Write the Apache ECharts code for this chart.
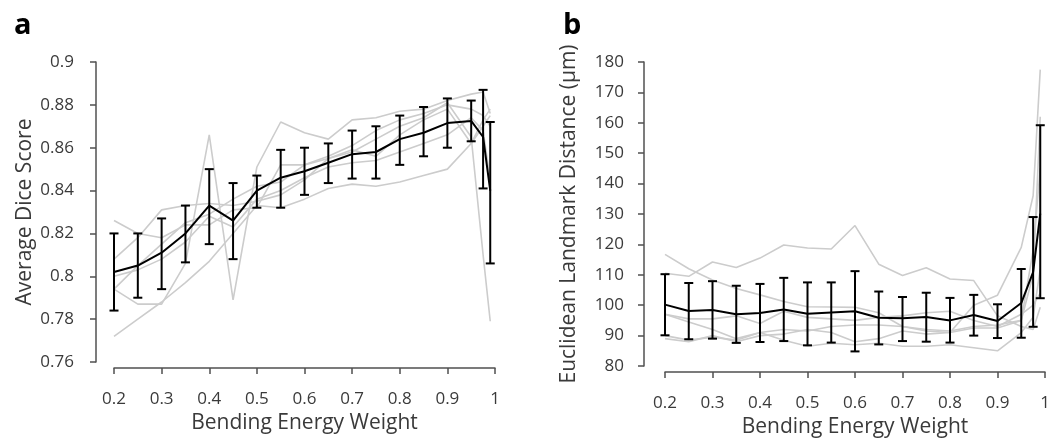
<!DOCTYPE html>
<html>
<head>
<meta charset="utf-8">
<script src="https://cdn.jsdelivr.net/npm/echarts@6/dist/echarts.min.js"></script>
<style>
  html, body { margin: 0; padding: 0; background: #ffffff; }
  #chart { width: 1054px; height: 438px; }
</style>
</head>
<body>
<div id="chart"></div>
<script>
// ---------- shared x values (Bending Energy Weight) ----------
const weights = [0.2, 0.25, 0.3, 0.35, 0.4, 0.45, 0.5, 0.55, 0.6, 0.65, 0.7, 0.75, 0.8, 0.85, 0.9, 0.95, 0.975, 0.99];
const xTickLabels = ['0.2', '0.3', '0.4', '0.5', '0.6', '0.7', '0.8', '0.9', '1'];

// ---------- panel a: Average Dice Score ----------
const diceMean = [0.802, 0.805, 0.811, 0.820, 0.833, 0.826, 0.840, 0.846, 0.849, 0.853, 0.857, 0.858, 0.864, 0.867, 0.8715, 0.8725, 0.865, 0.840];
const diceLow  = [0.784, 0.790, 0.794, 0.8065, 0.815, 0.808, 0.832, 0.832, 0.838, 0.8435, 0.8456, 0.8456, 0.852, 0.856, 0.860, 0.863, 0.841, 0.806];
const diceHigh = [0.820, 0.820, 0.827, 0.833, 0.850, 0.8435, 0.847, 0.859, 0.860, 0.862, 0.868, 0.870, 0.875, 0.879, 0.883, 0.882, 0.887, 0.872];
const diceSubj1 = [0.772, 0.780, 0.788, 0.797, 0.807, 0.820, 0.833, 0.832, 0.836, 0.841, 0.843, 0.842, 0.844, 0.847, 0.850, 0.862, 0.870, 0.875];
const diceSubj2 = [0.794, 0.787, 0.787, 0.806, 0.866, 0.789, 0.851, 0.872, 0.867, 0.864, 0.873, 0.874, 0.877, 0.878, 0.882, 0.885, 0.886, 0.876];
const diceSubj3 = [0.808, 0.818, 0.831, 0.833, 0.834, 0.833, 0.835, 0.838, 0.845, 0.855, 0.858, 0.864, 0.870, 0.874, 0.881, 0.865, 0.810, 0.779];
const diceSubj4 = [0.826, 0.820, 0.818, 0.824, 0.824, 0.831, 0.832, 0.852, 0.852, 0.855, 0.859, 0.856, 0.866, 0.873, 0.878, 0.862, 0.873, 0.878];
const diceSubj5 = [0.794, 0.805, 0.815, 0.825, 0.829, 0.836, 0.842, 0.844, 0.852, 0.856, 0.861, 0.868, 0.873, 0.876, 0.880, 0.878, 0.875, 0.870];
const diceSubj6 = [0.800, 0.803, 0.808, 0.816, 0.828, 0.823, 0.836, 0.840, 0.846, 0.851, 0.853, 0.854, 0.858, 0.862, 0.866, 0.874, 0.868, 0.845];
const diceYTicks = [0.76, 0.78, 0.8, 0.82, 0.84, 0.86, 0.88, 0.9];

// ---------- panel b: Euclidean Landmark Distance (µm) ----------
const distMean = [100.2, 98.1, 98.4, 97.0, 97.4, 98.6, 97.2, 97.6, 98.0, 95.9, 95.7, 96.1, 95.0, 96.8, 94.8, 100.7, 110.9, 130.1];
const distLow  = [90.1, 88.8, 89.0, 87.6, 87.9, 88.2, 86.8, 87.7, 84.8, 87.1, 88.2, 88.0, 87.7, 90.0, 89.2, 89.3, 92.9, 102.3];
const distHigh = [110.2, 107.3, 107.9, 106.4, 107.0, 109.0, 107.5, 107.5, 111.2, 104.5, 102.7, 104.1, 102.4, 103.4, 100.3, 111.9, 129.0, 159.2];
const distSubj1 = [110.5, 109.5, 114.2, 112.4, 115.5, 119.8, 118.8, 118.5, 126.2, 113.5, 109.8, 112.3, 108.6, 108.1, 96.5, 93.0, 92.0, 99.3];
const distSubj2 = [116.7, 112.0, 108.3, 105.5, 103.4, 101.2, 99.5, 99.4, 99.3, 97.5, 93.0, 91.5, 91.0, 100.0, 103.3, 119.0, 136.0, 177.5];
const distSubj3 = [97.0, 95.5, 95.5, 96.5, 94.0, 98.0, 96.0, 95.5, 95.0, 96.0, 96.5, 97.5, 98.0, 95.0, 93.0, 97.0, 100.0, 104.0];
const distSubj4 = [97.0, 94.5, 92.0, 89.0, 91.0, 92.0, 91.5, 93.0, 93.5, 93.5, 93.0, 92.0, 91.5, 93.0, 93.5, 95.0, 118.0, 145.0];
const distSubj5 = [90.0, 88.5, 89.5, 88.5, 91.0, 88.5, 86.5, 87.5, 87.0, 87.5, 86.5, 86.5, 87.0, 86.0, 85.0, 91.0, 96.0, 112.0];
const distSubj6 = [89.0, 88.0, 90.0, 88.0, 90.0, 90.5, 92.0, 91.0, 88.0, 89.0, 91.5, 90.5, 91.0, 92.5, 92.5, 95.0, 110.0, 162.0];
const distYTicks = [80, 90, 100, 110, 120, 130, 140, 150, 160, 170, 180];

// ---------- helpers ----------
const FONT = 'Open Sans';
const TEXT = '#3a3a3a';
const AXIS = '#505050';
const GRAY = '#cccccc';

const pairs = (ys) => weights.map((w, i) => [w, ys[i]]);
const bars = (lo, hi) => weights.map((w, i) => [w, lo[i], hi[i]]);

function errorRender(params, api) {
  const x = api.value(0);
  const lo = api.coord([x, api.value(1)]);
  const hi = api.coord([x, api.value(2)]);
  const cap = 4.5;
  const style = { stroke: '#000', lineWidth: 2 };
  return {
    type: 'group',
    children: [
      { type: 'line', shape: { x1: lo[0], y1: lo[1], x2: hi[0], y2: hi[1] }, style },
      { type: 'line', shape: { x1: hi[0] - cap, y1: hi[1], x2: hi[0] + cap, y2: hi[1] }, style },
      { type: 'line', shape: { x1: lo[0] - cap, y1: lo[1], x2: lo[0] + cap, y2: lo[1] }, style }
    ]
  };
}

function xAxisFor(gridIndex) {
  return {
    type: 'value', gridIndex, min: 0.2, max: 1, interval: 0.1,
    offset: 6,
    name: 'Bending Energy Weight', nameLocation: 'middle', nameGap: 38,
    nameTextStyle: { fontFamily: FONT, fontSize: 21, color: TEXT },
    axisLine: { show: true, lineStyle: { color: AXIS, width: 1.5 } },
    axisTick: { show: true, inside: false, length: 6, lineStyle: { color: AXIS, width: 1.5 } },
    axisLabel: {
      margin: 23, fontFamily: FONT, fontSize: 17, color: TEXT,
      formatter: (v) => {
        const idx = Math.round((v - 0.2) / 0.1);
        return xTickLabels[idx] !== undefined ? xTickLabels[idx] : '';
      }
    },
    splitLine: { show: false }
  };
}

function yAxisFor(gridIndex, ticks, name, offset, nameGap, labelMargin, decimals) {
  return {
    type: 'value', gridIndex,
    min: ticks[0], max: ticks[ticks.length - 1], interval: ticks[1] - ticks[0],
    offset,
    name, nameLocation: 'middle', nameGap,
    nameTextStyle: { fontFamily: FONT, fontSize: 21, color: TEXT },
    axisLine: { show: true, lineStyle: { color: AXIS, width: 1.5 } },
    axisTick: { show: true, inside: false, length: 6, lineStyle: { color: AXIS, width: 1.5 } },
    axisLabel: {
      margin: labelMargin, fontFamily: FONT, fontSize: 17, color: TEXT,
      formatter: (v) => {
        const t = ticks.find((tv) => Math.abs(tv - v) < 1e-9);
        return t === undefined ? '' : String(+t.toFixed(decimals));
      }
    },
    splitLine: { show: false }
  };
}

const grayLine = (xi, yi, data) => ({
  type: 'line', xAxisIndex: xi, yAxisIndex: yi, data,
  symbol: 'none', silent: true, animation: false,
  lineStyle: { color: GRAY, width: 1.6 }, z: 1
});

const diceSubjects = [diceSubj1, diceSubj2, diceSubj3, diceSubj4, diceSubj5, diceSubj6];
const distSubjects = [distSubj1, distSubj2, distSubj3, distSubj4, distSubj5, distSubj6];

const option = {
  backgroundColor: '#ffffff',
  animation: false,
  title: [
    { text: 'a', left: 9, top: 6, textStyle: { fontFamily: FONT, fontSize: 29, fontWeight: 'bold', color: '#000' } },
    { text: 'b', left: 558, top: 6, textStyle: { fontFamily: FONT, fontSize: 29, fontWeight: 'bold', color: '#000' } }
  ],
  grid: [
    { left: 114, top: 62, width: 381, height: 300, containLabel: false, outerBoundsMode: 'none' },
    { left: 665, top: 62, width: 380, height: 304, containLabel: false, outerBoundsMode: 'none' }
  ],
  xAxis: [xAxisFor(0), xAxisFor(1)],
  yAxis: [
    yAxisFor(0, diceYTicks, 'Average Dice Score', 18, 60, 22, 2),
    yAxisFor(1, distYTicks, 'Euclidean Landmark Distance (μm)', 21, 64, 20, 0)
  ],
  series: [
    ...diceSubjects.map((s) => grayLine(0, 0, pairs(s))),
    ...distSubjects.map((s) => grayLine(1, 1, pairs(s))),
    {
      type: 'custom', xAxisIndex: 0, yAxisIndex: 0, renderItem: errorRender,
      data: bars(diceLow, diceHigh), z: 3, silent: true
    },
    {
      type: 'custom', xAxisIndex: 1, yAxisIndex: 1, renderItem: errorRender,
      data: bars(distLow, distHigh), z: 3, silent: true
    },
    {
      type: 'line', xAxisIndex: 0, yAxisIndex: 0, data: pairs(diceMean),
      symbol: 'none', lineStyle: { color: '#000', width: 2 }, z: 4, silent: true
    },
    {
      type: 'line', xAxisIndex: 1, yAxisIndex: 1, data: pairs(distMean),
      symbol: 'none', lineStyle: { color: '#000', width: 2 }, z: 4, silent: true
    }
  ]
};

const chart = echarts.init(document.getElementById('chart'), null, { renderer: 'canvas' });
chart.setOption(option);
</script>
</body>
</html>
